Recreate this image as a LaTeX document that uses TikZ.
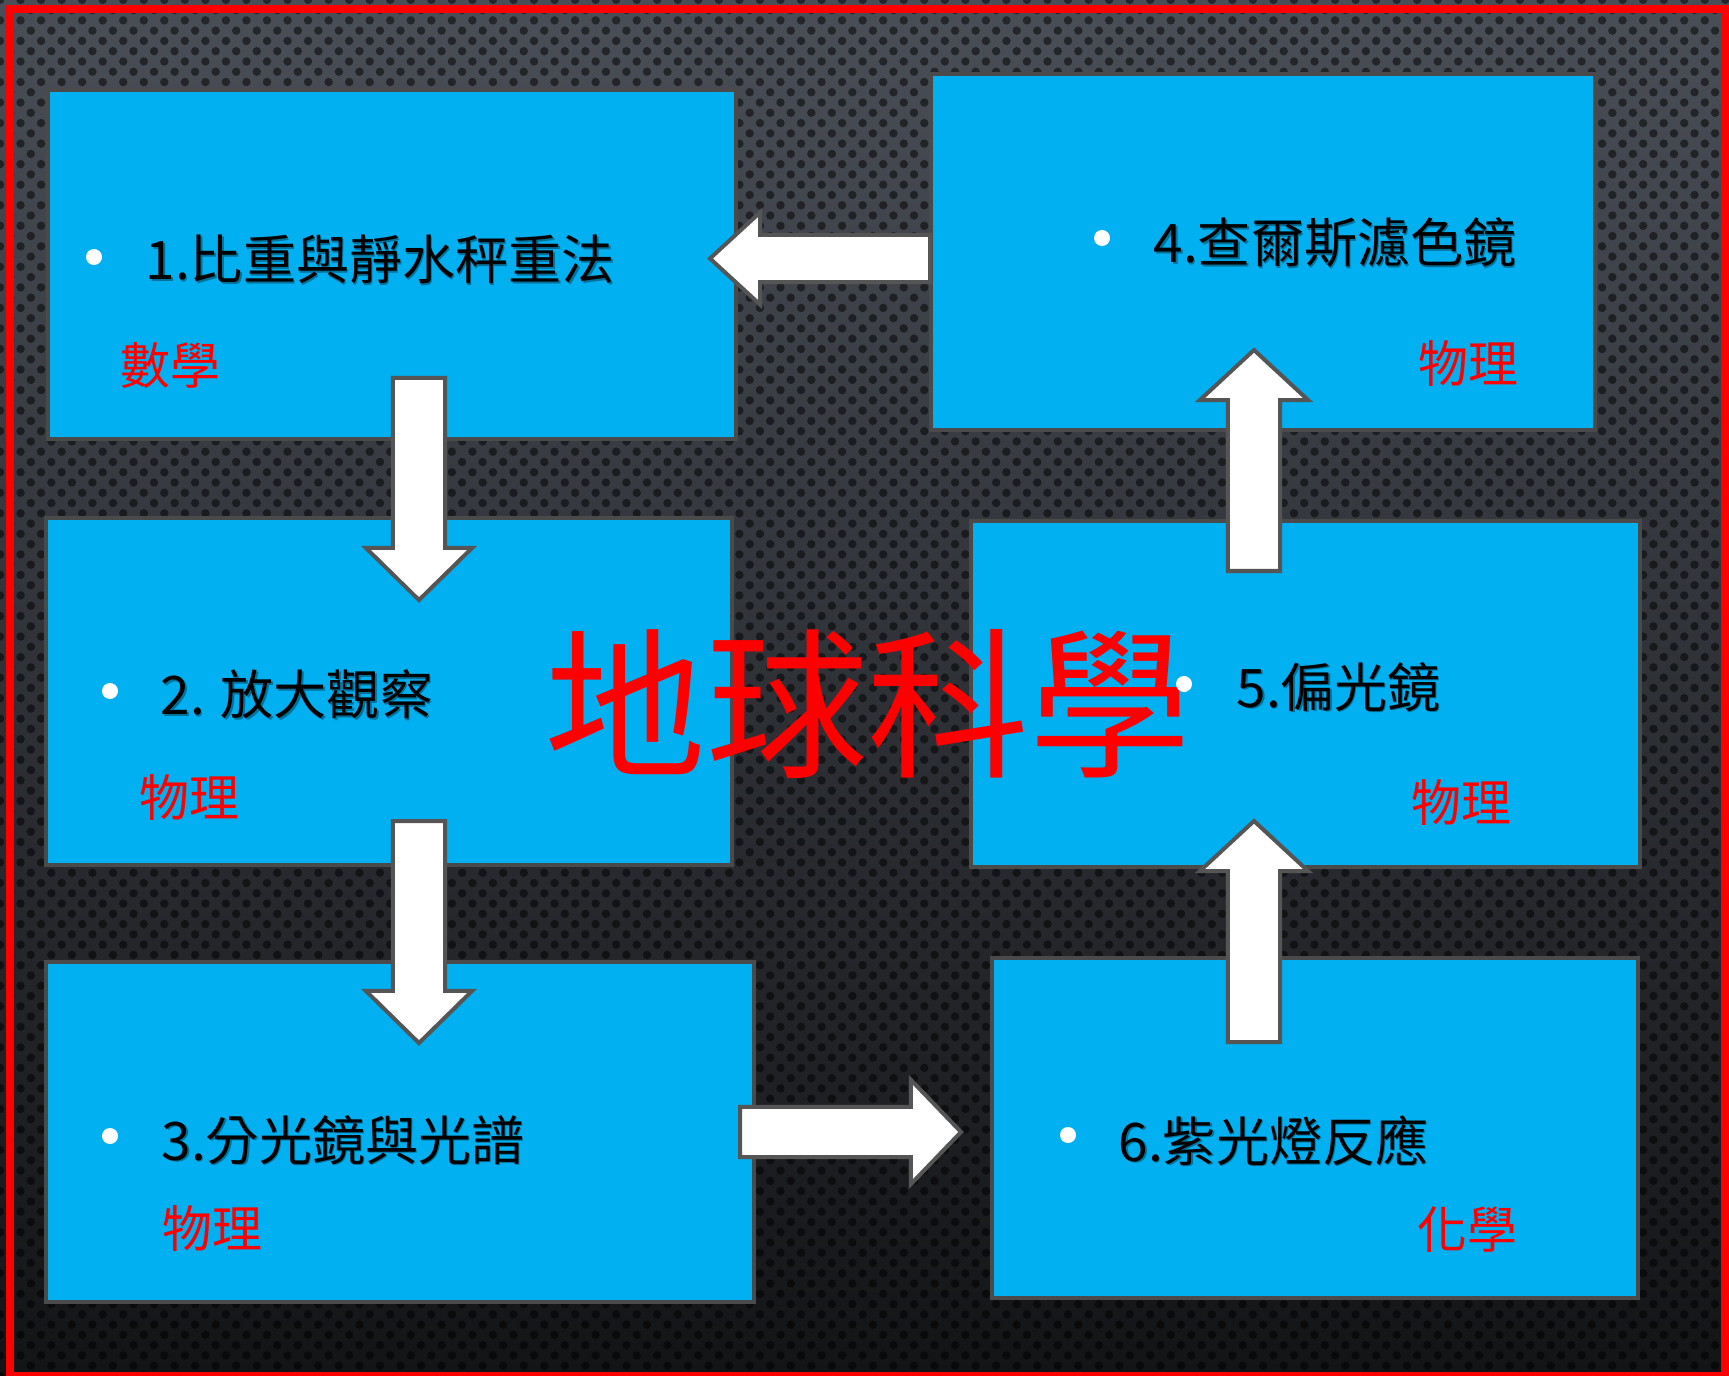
\documentclass[tikz,border=0pt]{standalone}
\usepackage{fontspec}
\newfontfamily\cjk{Noto Sans CJK TC}
\usetikzlibrary{calc,patterns.meta}
\definecolor{boxblue}{HTML}{00B0F0}
\definecolor{boxline}{HTML}{4A4A4A}
\definecolor{arrline}{HTML}{555555}
\definecolor{bgtop}{HTML}{4A4E57}
\definecolor{bgmid}{HTML}{2E3136}
\definecolor{bgbot}{HTML}{131416}
\definecolor{framered}{HTML}{FF0000}
\tikzset{
  box/.style={draw=boxline, line width=0.04cm, fill=boxblue, rectangle, anchor=north west, inner sep=0pt, outer sep=0pt},
  itemtext/.style={anchor=base west, inner sep=0pt, font=\cjk\fontsize{15.1pt}{18pt}\selectfont, text=black},
  itemshadow/.style={itemtext, text opacity=0.35},
  subject/.style={anchor=base west, inner sep=0pt, font=\cjk\fontsize{14.2pt}{17pt}\selectfont, text=framered},
  titletext/.style={anchor=base, inner sep=0pt, font=\cjk\fontsize{46pt}{50pt}\selectfont, text=framered},
  dotbullet/.style={circle, fill=white, inner sep=0pt, minimum size=0.16cm},
  blockarrow/.style={fill=white, draw=arrline, line width=0.04cm, line join=miter},
}
% tail, tip, half shaft, half head, head length
\newcommand{\blockarr}[5]{%
  \coordinate (#1-#2-h) at ($(#2)!#5!(#1)$);
  \filldraw[blockarrow] ($(#1)!#3!90:(#2)$) -- ($(#1-#2-h)!#3!90:(#2)$) -- ($(#1-#2-h)!#4!90:(#2)$) -- (#2) -- ($(#1-#2-h)!#4!-90:(#2)$) -- ($(#1-#2-h)!#3!-90:(#2)$) -- ($(#1)!#3!-90:(#2)$) -- cycle;
}
\newcommand{\itemtxt}[3]{%
  \node[itemshadow] (#2s) at ($(#1)+(1.5,1.5)$) {#3};
  \node[itemtext] (#2) at (#1) {#3};
}
\begin{document}
\begin{tikzpicture}[x=0.01cm,y=-0.01cm]
\useasboundingbox (0,0) rectangle (1729,1376);
% background
\fill[top color=bgtop, middle color=bgmid, bottom color=bgbot] (0,0) rectangle (1729,1376);
\fill[pattern={Dots[distance=4.13pt, radius=1.2pt, angle=45]}, pattern color=black, fill opacity=0.5] (0,0) rectangle (1729,1376);
% red frame
\draw[framered, line width=0.08cm] (10,9) rectangle (1725,1375.5);
% boxes
\node[box, minimum width=6.88cm, minimum height=3.49cm] (b1) at (48,90) {};
\node[box, minimum width=6.64cm, minimum height=3.56cm] (b4) at (931,74) {};
\node[box, minimum width=6.86cm, minimum height=3.47cm] (b2) at (46,518) {};
\node[box, minimum width=6.69cm, minimum height=3.46cm] (b5) at (971,521) {};
\node[box, minimum width=7.08cm, minimum height=3.40cm] (b3) at (46,962) {};
\node[box, minimum width=6.46cm, minimum height=3.40cm] (b6) at (992,958) {};
% arrow end points
\coordinate (a1t) at (930,258.5);  \coordinate (a1p) at (710,258.5);
\coordinate (a2t) at (419,378);    \coordinate (a2p) at (419,600);
\coordinate (a3t) at (419,821);    \coordinate (a3p) at (419,1043);
\coordinate (a4t) at (740,1132);   \coordinate (a4p) at (961,1132);
\coordinate (a5t) at (1254,1042);  \coordinate (a5p) at (1254,821);
\coordinate (a6t) at (1254,571);   \coordinate (a6p) at (1254,350);
\blockarr{a1t}{a1p}{0.235cm}{0.46cm}{0.50cm}
\blockarr{a2t}{a2p}{0.26cm}{0.53cm}{0.52cm}
\blockarr{a3t}{a3p}{0.26cm}{0.53cm}{0.52cm}
\blockarr{a4t}{a4p}{0.25cm}{0.52cm}{0.50cm}
\blockarr{a5t}{a5p}{0.26cm}{0.54cm}{0.50cm}
\blockarr{a6t}{a6p}{0.26cm}{0.54cm}{0.50cm}
% title
\node[titletext] (title) at (868,765) {地球科學};
% bullets
\node[dotbullet] (d1) at (94,257) {};
\node[dotbullet] (d2) at (110,691) {};
\node[dotbullet] (d3) at (110,1136) {};
\node[dotbullet] (d4) at (1102,238) {};
\node[dotbullet] (d5) at (1184,684) {};
\node[dotbullet] (d6) at (1068,1135) {};
% item texts
\itemtxt{145,280}{t1}{1.比重與靜水秤重法}
\itemtxt{160,715}{t2}{2. 放大觀察}
\itemtxt{161,1160}{t3}{3.分光鏡與光譜}
\itemtxt{1153,263}{t4}{4.查爾斯濾色鏡}
\itemtxt{1236,707}{t5}{5.偏光鏡}
\itemtxt{1118,1161}{t6}{6.紫光燈反應}
% subjects
\node[subject] (s1) at (120,385) {數學};
\node[subject] (s2) at (139,817) {物理};
\node[subject] (s3) at (162,1247) {物理};
\node[subject] (s4) at (1418,383) {物理};
\node[subject] (s5) at (1411,821) {物理};
\node[subject] (s6) at (1417,1248) {化學};
\end{tikzpicture}
\end{document}
